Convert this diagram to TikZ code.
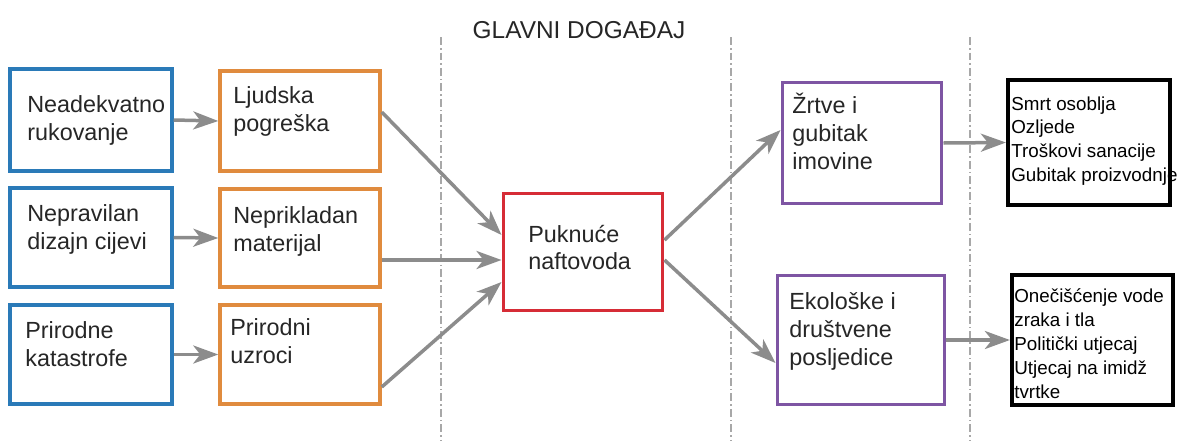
\documentclass[tikz,border=0pt]{standalone}
\usepackage{fontspec}
\setmainfont{Liberation Sans}
\usetikzlibrary{arrows.meta,calc}
\definecolor{causeblue}{HTML}{2A7AB8}
\definecolor{causeorange}{HTML}{E08B3E}
\definecolor{eventred}{HTML}{D62C36}
\definecolor{effectpurple}{HTML}{7E55A3}
\definecolor{arrowgrey}{HTML}{8C8C8C}
\definecolor{divgrey}{HTML}{A8A8A8}
\definecolor{ink}{HTML}{262626}
\begin{document}
\begin{tikzpicture}[
    x=0.02cm, y=-0.02cm,
    bluebox/.style={rectangle, draw=causeblue, line width=0.07cm, minimum width=3.24cm},
    orangebox/.style={rectangle, draw=causeorange, line width=0.07cm, minimum width=3.2cm},
    redbox/.style={rectangle, draw=eventred, line width=0.06cm, minimum width=3.2cm, minimum height=2.36cm},
    purplebox/.style={rectangle, draw=effectpurple, line width=0.06cm},
    blackbox/.style={rectangle, draw=black, line width=0.085cm},
    txt/.style={anchor=west, align=left, inner sep=0pt, text=ink, font=\fontsize{13.3}{15.9}\selectfont},
    smalltxt/.style={txt, text=black, font=\fontsize{10.7}{13.6}\selectfont},
    arrow/.style={draw=arrowgrey, line width=0.07cm, -{Stealth[length=0.5cm,width=0.36cm,inset=0.14cm]}},
    divider/.style={draw=divgrey, line width=0.03cm, dash pattern=on 0.16cm off 0.06cm on 0.03cm off 0.06cm}
]
    \useasboundingbox (0,0) rectangle (1186,440);

    % phases
    \node[txt, anchor=center, font=\fontsize{13.9}{16}\selectfont] (title) at (579,30) {GLAVNI DOGAĐAJ};
    \draw[divider] (441,37) -- (441,440); \draw[divider] (731,37) -- (731,440); \draw[divider] (970,37) -- (970,440);

    % causes
    \node[bluebox, minimum height=2.04cm] (b1) at (91,120) {};
    \node[bluebox, minimum height=1.98cm] (b2) at (91,237.5) {};
    \node[bluebox, minimum height=1.98cm] (b3) at (91,354.5) {};
    \node[txt] (tb1) at (27,120) {Neadekvatno\\rukovanje};
    \node[txt] (tb2) at (27,229) {Nepravilan\\dizajn cijevi};
    \node[txt] (tb3) at (25,344) {Prirodne\\katastrofe};

    \node[orangebox, minimum height=2cm] (o1) at (300,121) {};
    \node[orangebox, minimum height=1.96cm] (o2) at (300,238) {};
    \node[orangebox, minimum height=1.98cm] (o3) at (300,354.5) {};
    \node[txt] (to1) at (233,111) {Ljudska\\pogreška};
    \node[txt] (to2) at (233,231) {Neprikladan\\materijal};
    \node[txt] (to3) at (230,341.5) {Prirodni\\uzroci};

    % main event
    \node[redbox] (red) at (583,252) {};
    \node[txt] (tred) at (528,247.5) {Puknuće\\naftovoda};

    % consequences
    \node[purplebox, minimum width=3.2cm, minimum height=2.44cm] (p1) at (862,143) {};
    \node[purplebox, minimum width=3.36cm, minimum height=2.6cm] (p2) at (861,340) {};
    \node[txt] (tp1) at (792,131) {Žrtve i\\gubitak\\imovine};
    \node[txt] (tp2) at (789,331) {Ekološke i\\društvene\\posljedice};

    \node[smalltxt] (tk1) at (1011,141) {Smrt osoblja\\Ozljede\\Troškovi sanacije\\Gubitak proizvodnje};
    \node[smalltxt] (tk2) at (1014,343.5) {Onečišćenje vode\\zraka i tla\\Politički utjecaj\\Utjecaj na imidž\\tvrtke};
    \node[blackbox, minimum width=3.24cm, minimum height=2.5cm] (k1) at (1089,142.5) {};
    \node[blackbox, minimum width=3.22cm, minimum height=2.6cm] (k2) at (1092.5,340) {};

    \draw[arrow] (b1.east) -- (o1.west); \draw[arrow] (b2.east) -- (o2.west); \draw[arrow] (b3.east) -- (o3.west);
    \draw[arrow] ($(o1.east)+(0,-9)$) -- ($(red.west)+(0,-17)$);
    \draw[arrow] ($(o2.east)+(0,22)$) -- ($(red.west)+(0,8)$);
    \draw[arrow] ($(o3.east)+(0,32.5)$) -- ($(red.west)+(0,30)$);
    \draw[arrow] ($(red.east)+(0,-12)$) -- ($(p1.west)+(0,-13)$);
    \draw[arrow] ($(red.east)+(0,8)$) -- ($(p2.west)+(0,23)$);
    \draw[arrow] (p1.east) -- (k1.west); \draw[arrow] (p2.east) -- (k2.west);
\end{tikzpicture}
\end{document}
